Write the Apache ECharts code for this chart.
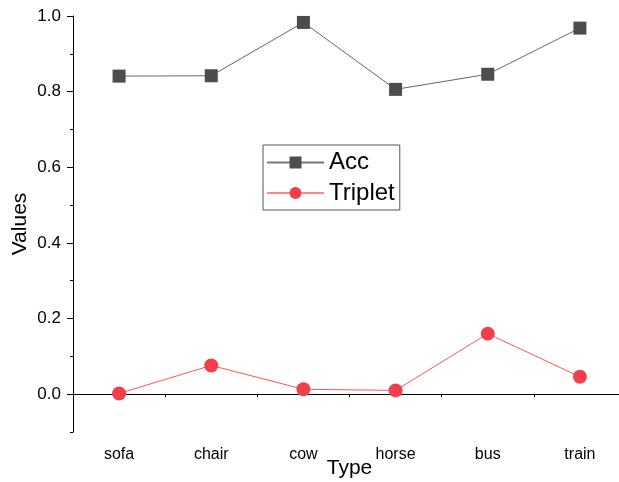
<!DOCTYPE html>
<html>
<head>
<meta charset="utf-8">
<script src="https://cdn.jsdelivr.net/npm/echarts@6/dist/echarts.min.js"></script>
<style>html,body{margin:0;padding:0;background:#fff}#c{width:619px;height:482px}</style>
</head>
<body>
<div id="c"></div>
<script>
const categories = ['sofa', 'chair', 'cow', 'horse', 'bus', 'train'];
const accValues = [0.841, 0.842, 0.983, 0.806, 0.846, 0.968];
const tripletValues = [0.002, 0.076, 0.013, 0.010, 0.160, 0.046];
const yMajorTicks = [0, 0.2, 0.4, 0.6, 0.8, 1.0];

const FONT = '"Liberation Sans", Arial, sans-serif';
const chart = echarts.init(document.getElementById('c'), null, {renderer: 'canvas'});
const axisLineStyle = {color: '#000', width: 1};

chart.setOption({
  animation: false,
  backgroundColor: '#fff',
  grid: {left: 73, top: 16, right: -7, bottom: 50, containLabel: false, outerBoundsMode: 'none'},
  legend: {
    left: 263, top: 145, orient: 'vertical',
    padding: [5.5, 5, 5, 3],
    itemWidth: 57, itemHeight: 15, itemGap: 6.5,
    borderColor: '#555', borderWidth: 1,
    textStyle: {fontFamily: FONT, fontSize: 24, color: '#000'},
    data: [
      {name: 'Acc', lineStyle: {color: '#777'}},
      {name: 'Triplet', lineStyle: {color: '#f88'}}
    ]
  },
  xAxis: [
    {
      type: 'category', data: categories, boundaryGap: true, position: 'bottom',
      name: 'Type', nameLocation: 'middle', nameGap: 26, nameMoveOverlap: false,
      nameTextStyle: {fontFamily: FONT, fontSize: 21, color: '#000'},
      axisLine: {lineStyle: axisLineStyle},
      axisTick: {alignWithLabel: true, length: 6, lineStyle: axisLineStyle},
      axisLabel: {fontFamily: FONT, fontSize: 16, color: '#000', margin: 15},
      splitLine: {show: false}
    },
    {
      type: 'category', data: categories, boundaryGap: true, position: 'bottom',
      axisLine: {show: false},
      axisTick: {show: true, length: 3, lineStyle: axisLineStyle},
      axisLabel: {show: false},
      splitLine: {show: false}
    }
  ],
  yAxis: [
    {
      type: 'value', min: -0.1, max: 1.0, interval: 0.1, position: 'left',
      name: 'Values', nameLocation: 'middle', nameGap: 42, nameMoveOverlap: false,
      nameTextStyle: {fontFamily: FONT, fontSize: 21, color: '#000'},
      axisLine: {show: true, lineStyle: axisLineStyle},
      axisTick: {show: true, length: 3, lineStyle: axisLineStyle},
      axisLabel: {show: false},
      splitLine: {show: false}
    },
    {
      type: 'value', min: -0.1, max: 1.0, position: 'left',
      axisLine: {show: false},
      axisTick: {show: true, length: 6, lineStyle: axisLineStyle, customValues: yMajorTicks},
      axisLabel: {fontFamily: FONT, fontSize: 17, color: '#000', margin: 12,
        customValues: yMajorTicks, formatter: v => v.toFixed(1)},
      splitLine: {show: false}
    }
  ],
  series: [
    {
      name: 'Acc', type: 'line', data: accValues, xAxisIndex: 0, yAxisIndex: 0,
      symbol: 'rect', symbolSize: 13,
      itemStyle: {color: '#4d4d4d'},
      lineStyle: {color: '#666', width: 1}
    },
    {
      name: 'Triplet', type: 'line', data: tripletValues, xAxisIndex: 0, yAxisIndex: 0,
      symbol: 'circle', symbolSize: 14,
      itemStyle: {color: '#f2404a'},
      lineStyle: {color: '#f55', width: 1}
    }
  ]
});
</script>
</body>
</html>
